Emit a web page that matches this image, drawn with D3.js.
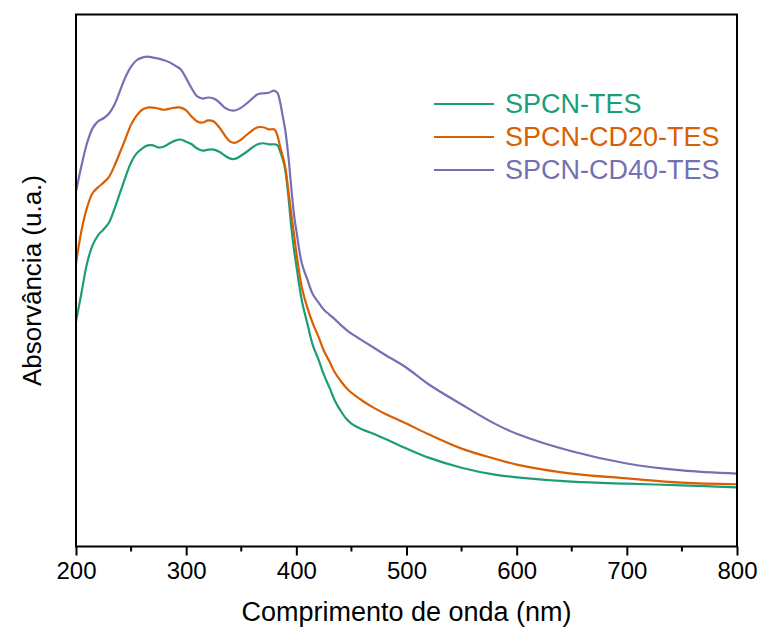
<!DOCTYPE html>
<html>
<head>
<meta charset="utf-8">
<script src="https://cdn.jsdelivr.net/npm/d3@7"></script>
<style>
  body { margin: 0; background: #fff; }
  text { font-family: Arial, "Liberation Sans", sans-serif; }
</style>
</head>
<body>
<div class="visHolder"></div>
<script>
// wavelengths (nm) shared by the three spectra
var wavelength = [200, 205, 210, 215, 220, 225, 230, 235, 240, 245, 250, 255, 260, 265, 270, 275, 280,
  285, 290, 295, 300, 305, 310, 315, 320, 325, 330, 335, 340, 345, 350, 355, 360, 365, 370, 375, 380,
  383, 385, 388, 390, 393, 395, 398, 400, 405, 410, 415, 420, 425, 430, 435, 440, 445, 450, 460, 470,
  480, 500, 520, 550, 580, 600, 650, 700, 750, 800];

var spcnTes = [0.423, 0.477, 0.532, 0.566, 0.585, 0.596, 0.609, 0.635, 0.665, 0.695, 0.722, 0.739,
  0.748, 0.754, 0.754, 0.750, 0.752, 0.758, 0.763, 0.765, 0.761, 0.756, 0.748, 0.744, 0.746, 0.746,
  0.742, 0.735, 0.729, 0.729, 0.735, 0.742, 0.750, 0.756, 0.758, 0.756, 0.756,
  0.754, 0.744, 0.726, 0.707, 0.654, 0.609, 0.556, 0.528, 0.462, 0.419, 0.378, 0.352, 0.323, 0.299,
  0.274, 0.256, 0.241, 0.231, 0.220, 0.212, 0.203, 0.184, 0.167, 0.148, 0.135, 0.130, 0.122, 0.118,
  0.115, 0.111];

var spcnCd20Tes = [0.532, 0.594, 0.637, 0.664, 0.675, 0.684, 0.695, 0.716, 0.741, 0.767, 0.793, 0.810,
  0.821, 0.825, 0.825, 0.823, 0.821, 0.823, 0.825, 0.825, 0.820, 0.808, 0.799, 0.797, 0.801, 0.799,
  0.788, 0.773, 0.761, 0.759, 0.765, 0.774, 0.782, 0.788, 0.788, 0.784, 0.784,
  0.771, 0.754, 0.731, 0.712, 0.665, 0.632, 0.585, 0.553, 0.487, 0.449, 0.419, 0.395, 0.368, 0.348,
  0.327, 0.312, 0.299, 0.289, 0.274, 0.261, 0.250, 0.231, 0.211, 0.184, 0.165, 0.154, 0.137, 0.128,
  0.120, 0.117];

var spcnCd40Tes = [0.667, 0.716, 0.758, 0.786, 0.799, 0.805, 0.814, 0.831, 0.857, 0.883, 0.902, 0.914,
  0.919, 0.921, 0.919, 0.917, 0.914, 0.910, 0.904, 0.897, 0.880, 0.861, 0.846, 0.842, 0.844, 0.842,
  0.835, 0.825, 0.820, 0.820, 0.825, 0.833, 0.842, 0.850, 0.852, 0.853, 0.857,
  0.852, 0.838, 0.805, 0.782, 0.729, 0.684, 0.622, 0.594, 0.532, 0.502, 0.474, 0.459, 0.445, 0.436,
  0.427, 0.417, 0.408, 0.400, 0.387, 0.374, 0.361, 0.336, 0.305, 0.267, 0.231, 0.212, 0.179, 0.156,
  0.143, 0.137];

var seriesNames = ['SPCN-TES', 'SPCN-CD20-TES', 'SPCN-CD40-TES'];
var seriesColors = ['#1b9e77', '#d95f02', '#7570b3'];
var xTicks = [200, 300, 400, 500, 600, 700, 800];
var xMinorTicks = [250, 350, 450, 550, 650, 750];

var width = 761,
  height = 631;
// plot box (window.top is reserved, so use m* names)
var mLeft = 76,
  mRight = 737,
  mTop = 14.5,
  mBottom = 546.5;

var svg = d3
  .select('.visHolder')
  .append('svg')
  .attr('width', width)
  .attr('height', height);

var xScale = d3.scaleLinear().domain([200, 800]).range([mLeft, mRight]);
var yScale = d3.scaleLinear().domain([0, 1]).range([mBottom, mTop]);

var allSeries = [spcnTes, spcnCd20Tes, spcnCd40Tes];

var line = d3
  .line()
  .x(function (d) {
    return xScale(d[0]);
  })
  .y(function (d) {
    return yScale(d[1]);
  })
  .curve(d3.curveCatmullRom.alpha(0.5));

allSeries.forEach(function (values, k) {
  var pts = wavelength.map(function (w, i) {
    return [w, values[i]];
  });
  svg
    .append('path')
    .attr('d', line(pts))
    .attr('fill', 'none')
    .attr('stroke', seriesColors[k])
    .attr('stroke-width', 2.2)
    .attr('stroke-linejoin', 'round');
});

// frame
svg
  .append('rect')
  .attr('x', mLeft)
  .attr('y', mTop)
  .attr('width', mRight - mLeft)
  .attr('height', mBottom - mTop)
  .attr('fill', 'none')
  .attr('stroke', '#000')
  .attr('stroke-width', 2);

// bottom axis
var xAxis = d3
  .axisBottom(xScale)
  .tickValues(xTicks)
  .tickSize(9)
  .tickPadding(6)
  .tickFormat(d3.format('d'));

var gx = svg
  .append('g')
  .attr('transform', 'translate(0,' + mBottom + ')')
  .call(xAxis);
gx.select('.domain').remove();
gx.selectAll('line').attr('stroke-width', 2);
gx.selectAll('text').attr('font-size', 24).attr('fill', '#000');

svg
  .append('g')
  .selectAll('line')
  .data(xMinorTicks)
  .enter()
  .append('line')
  .attr('x1', function (d) {
    return xScale(d);
  })
  .attr('x2', function (d) {
    return xScale(d);
  })
  .attr('y1', mBottom)
  .attr('y2', mBottom + 5)
  .attr('stroke', '#000')
  .attr('stroke-width', 2);

// axis titles
svg
  .append('text')
  .attr('x', (mLeft + mRight) / 2)
  .attr('y', 621)
  .attr('text-anchor', 'middle')
  .attr('font-size', 27)
  .text('Comprimento de onda (nm)');

svg
  .append('text')
  .attr('transform', 'translate(41,' + (mTop + mBottom) / 2 + ') rotate(-90)')
  .attr('text-anchor', 'middle')
  .attr('font-size', 26)
  .text('Absorvância (u.a.)');

// legend
var legend = svg
  .append('g')
  .selectAll('g')
  .data(seriesNames)
  .enter()
  .append('g')
  .attr('transform', function (d, i) {
    return 'translate(434,' + (104 + i * 33) + ')';
  });

legend
  .append('line')
  .attr('x1', 0)
  .attr('x2', 60)
  .attr('stroke', function (d, i) {
    return seriesColors[i];
  })
  .attr('stroke-width', 2.2);

legend
  .append('text')
  .attr('x', 71)
  .attr('dy', '0.35em')
  .attr('font-size', 27)
  .attr('fill', function (d, i) {
    return seriesColors[i];
  })
  .text(function (d) {
    return d;
  });
</script>
</body>
</html>
